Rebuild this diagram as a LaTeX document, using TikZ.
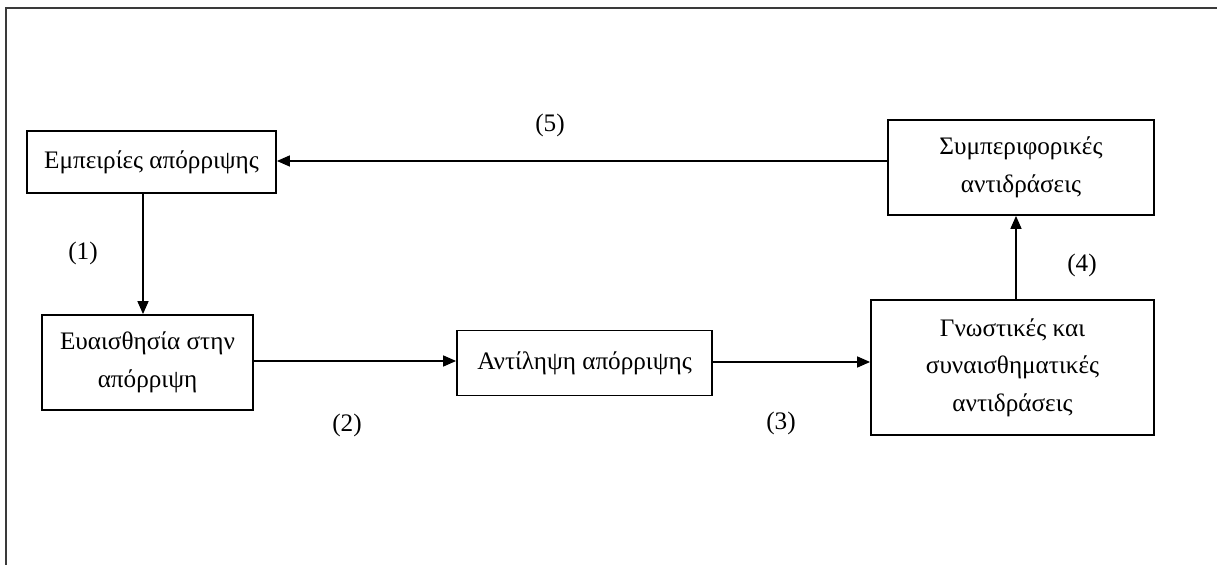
\documentclass[tikz,border=0pt]{standalone}
\usepackage{fontspec}
\setmainfont{Liberation Serif}
\usetikzlibrary{arrows.meta,positioning}
\definecolor{cFrame}{HTML}{3A3A3A}

\begin{document}
\begin{tikzpicture}[x=0.5pt,y=-0.5pt,font=\fontsize{12.6}{18.8}\selectfont,
    stagebox/.style={draw,line width=0.9pt,align=center,inner sep=2pt},
    flow/.style={line width=0.75pt,-{Triangle[length=6.5pt,width=5.5pt]}}]
  \useasboundingbox (0,0) rectangle (1217,565);
  % open frame, only left and top edges
  \draw[cFrame,line width=1.1pt] (6,565) -- (6,8) -- (1217,8);
  \node[stagebox,minimum width=124.5pt,minimum height=31pt] (exper) at (151.5,162) {Εμπειρίες απόρριψης};
  \node[stagebox,minimum width=105.5pt,minimum height=47.5pt] (sens) at (147.5,362.5) {Ευαισθησία στην\\απόρριψη};
  \node[stagebox,minimum width=127.5pt,minimum height=32.5pt] (perc) at (584.5,363) {Αντίληψη απόρριψης};
  \node[stagebox,minimum width=141.5pt,minimum height=67.5pt] (cogn) at (1012.5,367.5) {Γνωστικές και\\συναισθηματικές\\αντιδράσεις};
  \node[stagebox,minimum width=133pt,minimum height=47.5pt] (behav) at (1021,167.5) {Συμπεριφορικές\\αντιδράσεις};
  \draw[flow] (exper.south -| 143,0) -- (sens.north -| 143,0);
  \draw[flow] (sens.east |- 0,361) -- (perc.west |- 0,361);
  \draw[flow] (perc.east |- 0,362) -- (cogn.west |- 0,362);
  \draw[flow] (cogn.north -| 1016,0) -- (behav.south -| 1016,0);
  \draw[flow] (behav.west |- 0,161) -- (exper.east |- 0,161);
  \foreach \n/\x/\y in {1/83/253,2/347/425,3/781/423,4/1082/265,5/550/125}{
    \node (lab\n) at (\x,\y) {(\n)};}
\end{tikzpicture}
\end{document}
